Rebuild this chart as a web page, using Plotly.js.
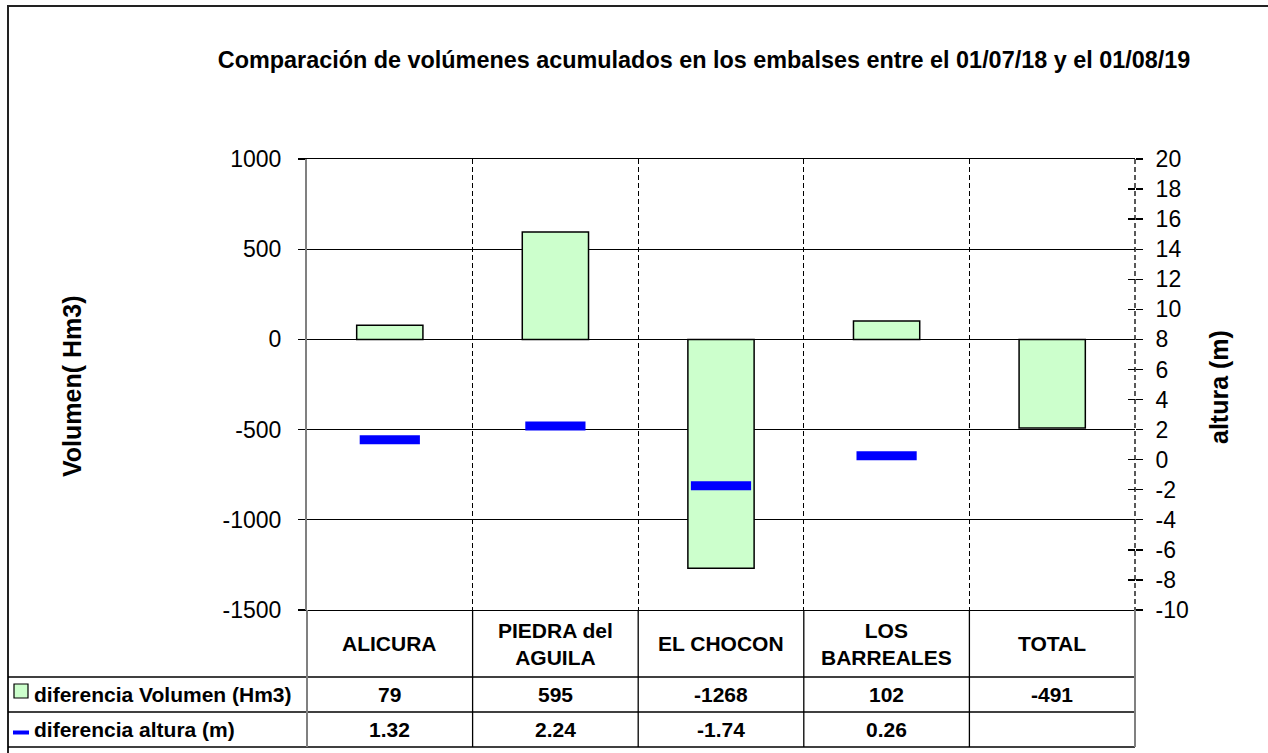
<!DOCTYPE html>
<html>
<head>
<meta charset="utf-8">
<script src="https://cdn.plot.ly/plotly-3.0.1.min.js"></script>
<style>html,body{margin:0;padding:0;background:#fff}#chart{width:1268px;height:753px}</style>
</head>
<body>
<div id="chart"></div>
<script>
// ---- data ----
const categories = ['ALICURA', 'PIEDRA del<br>AGUILA', 'EL CHOCON', 'LOS<br>BARREALES', 'TOTAL'];
const volumen = [79, 595, -1268, 102, -491];
const altura = [1.32, 2.24, -1.74, 0.26, null];
const seriesNames = ['diferencia Volumen (Hm3)', 'diferencia altura (m)'];
const yTickVals = [-1500, -1000, -500, 0, 500, 1000];
const yTickText = ['-1500', '-1000', '-500', '0', '500', '1000'];
const y2TickVals = [-10, -8, -6, -4, -2, 0, 2, 4, 6, 8, 10, 12, 14, 16, 18, 20];
const y2TickText = ['-10', '-8', '-6', '-4', '-2', '0', '2', '4', '6', '8', '10', '12', '14', '16', '18', '20'];
const titleText = 'Comparación de volúmenes acumulados en los embalses entre el 01/07/18 y el 01/08/19';
const yTitle = 'Volumen( Hm3)';
const y2Title = 'altura (m)';

// ---- geometry helpers (pixels -> paper) ----
const W = 1268, H = 753;
const PL = 307, PR = 1135, PT = 159, PB = 610;
const px = x => x / W;
const py = y => 1 - y / H;
const FONT = 'Liberation Sans, Arial, sans-serif';

const traces = [
  {type: 'bar', x: categories, y: volumen, name: seriesNames[0], width: 0.4,
   marker: {color: '#CCFFCC', line: {color: '#000', width: 1.5}}, xaxis: 'x', yaxis: 'y', hoverinfo: 'x+y'},
  {type: 'scatter', mode: 'markers', x: categories, y: altura, name: seriesNames[1],
   marker: {symbol: 'line-ew', size: 43, color: '#0000FF', line: {color: '#0000FF', width: 9}},
   xaxis: 'x', yaxis: 'y2', hoverinfo: 'x+y'},
  {type: 'scatter', x: [], y: [], xaxis: 'x2', yaxis: 'y', showlegend: false, hoverinfo: 'skip'},
  {type: 'scatter', x: [], y: [], xaxis: 'x', yaxis: 'y3', showlegend: false, hoverinfo: 'skip'}
];

const shapes = [];
const annotations = [];
function hline(y, x0, x1, color, w) {
  shapes.push({type: 'line', xref: 'paper', yref: 'paper', x0: px(x0), x1: px(x1), y0: py(y), y1: py(y),
    line: {color: color || '#000', width: w || 1.3}});
}
function vline(x, y0, y1, color, w, dash) {
  shapes.push({type: 'line', xref: 'paper', yref: 'paper', x0: px(x), x1: px(x), y0: py(y0), y1: py(y1),
    line: {color: color || '#000', width: w || 1.3, dash: dash || 'solid'}});
}
// outer chart border
shapes.push({type: 'rect', xref: 'paper', yref: 'paper', x0: px(8), x1: px(1280), y0: py(6), y1: py(770),
  line: {color: '#222', width: 2}, fillcolor: 'rgba(0,0,0,0)'});

// right edge of plot area (dashed, like category separators)
vline(PR, PT, PB, '#000', 1.3, '5px,3px');

// data table grid
const R0 = 610, R1 = 677, R2 = 712, R3 = 747;
hline(R1, 8, PR); hline(R2, 8, PR); hline(R3, 8, PR);
vline(PL, R0, R3, '#808080', 2);
vline(PR, R0, R3, '#808080', 2);
const colW = (PR - PL) / categories.length;
for (let i = 1; i < categories.length; i++) vline(PL + i * colW, R0, R3, '#000', 1.3);

// legend keys
shapes.push({type: 'rect', xref: 'paper', yref: 'paper', x0: px(14), x1: px(28), y0: py(698), y1: py(684),
  fillcolor: '#CCFFCC', line: {color: '#000', width: 1.2}});
shapes.push({type: 'line', xref: 'paper', yref: 'paper', x0: px(13), x1: px(29), y0: py(732.5), y1: py(732.5),
  line: {color: '#0000FF', width: 4}});

const boldFont = {family: FONT, size: 21, color: '#000', weight: 'bold'};
const titleFont = {family: FONT, size: 25, color: '#000', weight: 'bold'};
annotations.push({xref: 'paper', yref: 'paper', x: px(32), y: py((R1 + R2) / 2), xanchor: 'left', yanchor: 'middle',
  text: '<b>' + seriesNames[0] + '</b>', showarrow: false, font: boldFont});
annotations.push({xref: 'paper', yref: 'paper', x: px(32), y: py((R2 + R3) / 2), xanchor: 'left', yanchor: 'middle',
  text: '<b>' + seriesNames[1] + '</b>', showarrow: false, font: boldFont});

categories.forEach((c, i) => {
  annotations.push({xref: 'x', yref: 'paper', x: c, y: py((R0 + R1) / 2), xanchor: 'center', yanchor: 'middle',
    text: '<b>' + c + '</b>', showarrow: false, font: boldFont});
  annotations.push({xref: 'x', yref: 'paper', x: c, y: py((R1 + R2) / 2), xanchor: 'center', yanchor: 'middle',
    text: '<b>' + String(volumen[i]) + '</b>', showarrow: false, font: boldFont});
  annotations.push({xref: 'x', yref: 'paper', x: c, y: py((R2 + R3) / 2), xanchor: 'center', yanchor: 'middle',
    text: altura[i] == null ? '' : '<b>' + altura[i].toFixed(2) + '</b>', showarrow: false, font: boldFont});
});

// axis titles
annotations.push({xref: 'paper', yref: 'paper', x: px(72), y: py(386), xanchor: 'center', yanchor: 'middle',
  textangle: -90, text: '<b>' + yTitle + '</b>', showarrow: false, font: titleFont});
annotations.push({xref: 'paper', yref: 'paper', x: px(1219), y: py(387), xanchor: 'center', yanchor: 'middle',
  textangle: -90, text: '<b>' + y2Title + '</b>', showarrow: false, font: titleFont});

const tickFont = {family: FONT, size: 23, color: '#000'};
const layout = {
  width: W, height: H,
  margin: {l: 0, r: 0, t: 0, b: 0},
  paper_bgcolor: '#fff', plot_bgcolor: '#fff',
  showlegend: false,
  title: {text: '<b>' + titleText + '</b>', x: px(704), xanchor: 'center', xref: 'paper',
    y: py(60), yanchor: 'middle', yref: 'container', font: {family: FONT, size: 23.4, color: '#000'}},
  xaxis: {type: 'category', domain: [px(PL), px(PR)], range: [-0.5, 4.5], showticklabels: false,
    ticks: '', showgrid: false, zeroline: false, showline: true, linecolor: '#000', linewidth: 1.3, mirror: true,
    anchor: 'y', fixedrange: true},
  xaxis2: {overlaying: 'x', anchor: 'y', type: 'linear', range: [-0.5, 4.5], tick0: 0.5, dtick: 1,
    showgrid: true, gridcolor: '#000', gridwidth: 1.3, griddash: '5px,3px', showticklabels: false,
    ticks: '', zeroline: false, showline: false},
  yaxis: {domain: [py(PB), py(PT)], range: [-1500, 1000], tickmode: 'array', tickvals: yTickVals, ticktext: yTickText,
    showgrid: true, gridcolor: '#000', gridwidth: 1.3, zeroline: false, showline: true, linecolor: '#808080', linewidth: 2,
    ticks: 'outside', ticklen: 7, tickcolor: '#000', tickwidth: 1.3, tickfont: tickFont,
    ticklabelstandoff: 12, anchor: 'x', fixedrange: true},
  yaxis2: {overlaying: 'y', side: 'right', anchor: 'x', range: [-10, 20], tickmode: 'array',
    tickvals: y2TickVals, ticktext: y2TickText,
    showgrid: false, zeroline: false, showline: false, ticks: 'outside', ticklen: 7, tickcolor: '#000',
    tickwidth: 1.3, tickfont: tickFont, ticklabelstandoff: 8, fixedrange: true},
  yaxis3: {overlaying: 'y', side: 'right', anchor: 'x', range: [-10, 20], dtick: 2, tick0: 0,
    showgrid: false, zeroline: false, showline: false, ticks: 'inside', ticklen: 7, tickcolor: '#000',
    tickwidth: 1.3, showticklabels: false, fixedrange: true},
  shapes: shapes,
  annotations: annotations
};

Plotly.newPlot('chart', traces, layout, {displayModeBar: false, staticPlot: true});
</script>
</body>
</html>
